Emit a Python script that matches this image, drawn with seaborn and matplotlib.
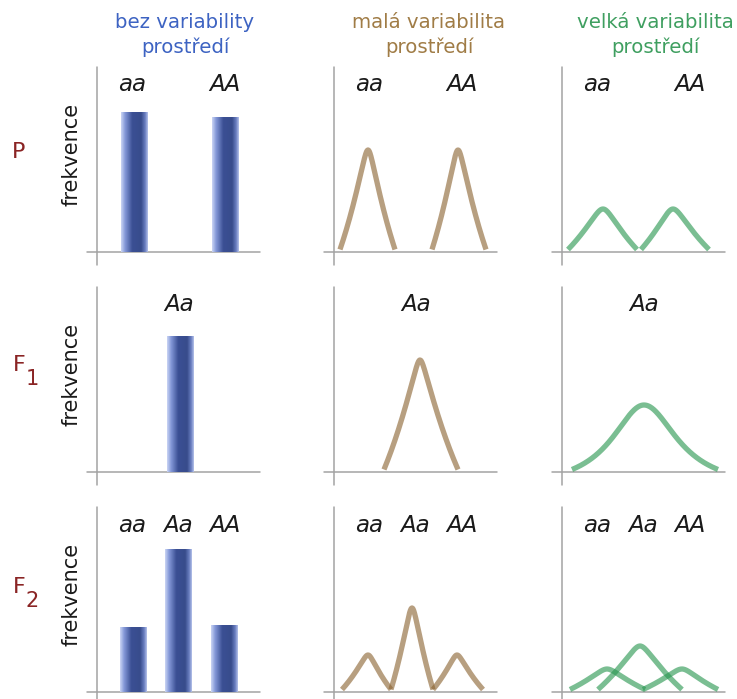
import numpy as np
import pandas as pd
import matplotlib
matplotlib.use("Agg")
import matplotlib.pyplot as plt
import seaborn as sns
from matplotlib.colors import LinearSegmentedColormap

sns.set_theme(style="white")
plt.rcParams['font.family'] = ['DejaVu Sans', 'Noto Sans']

W, H = 737, 699

# ---------------- data ----------------
col_titles = ["bez variability\nprostředí", "malá variabilita\nprostředí",
              "velká variabilita\nprostředí"]
col_title_colors = ["#3d63c2", "#a07c46", "#3f9f60"]
row_labels = ["P", "F", "F"]
row_subs = ["", "1", "2"]
y_label = "frekvence"

genotypes = [["aa", "AA"], ["Aa"], ["aa", "Aa", "AA"]]
label_pos = [[35, 128], [82], [35, 81, 128]]

# column 1: no environmental variability (bars)
bar_pos = [[37, 128], [83], [36, 81, 127]]
bar_freq = [[140, 135], [136], [65, 143, 67]]

# column 2: small variability (curves): start, peak, end, peak frequency
small_start = [[6, 98], [50], [8, 57, 99]]
small_peak = [[34, 124], [86], [34, 78, 123]]
small_end = [[61, 152], [124], [57, 99, 149]]
small_freq = [[102, 102], [112], [37, 84, 37]]

# column 3: large variability (curves)
large_start = [[6, 79], [10], [8, 36, 81]]
large_peak = [[41, 111], [82], [45, 78, 120]]
large_end = [[75, 147], [156], [83, 120, 156]]
large_freq = [[43, 43], [67], [23, 46, 23]]

# ---------------- layout / style ----------------
axis_x = [97, 334, 562]      # pixel x of vertical axis per column
base_y = [252, 472, 692]     # pixel y of baseline per row
BAR_W = 27

brown = (140 / 255, 100 / 255, 50 / 255)
green = (40 / 255, 150 / 255, 80 / 255)
axis_col = "#a3a3a3"
green_shape = [("cusp", 1.6, 6.0), ("lor", 0.55, 0), ("cusp", 1.6, 6.0)]
brown_shape = ("cusp", 1.6, 3.0)

bar_cmap = LinearSegmentedColormap.from_list("bar", [
    (0.0, (0.80, 0.84, 0.96)),
    (0.15, (0.52, 0.60, 0.85)),
    (0.42, (0.23, 0.31, 0.58)),
    (0.75, (0.22, 0.30, 0.55)),
    (0.90, (0.42, 0.50, 0.76)),
    (1.0, (0.72, 0.77, 0.92)),
])


def profile(d, D, kind, k, rr):
    if kind == "cusp":
        de = np.sqrt(d ** 2 + rr ** 2) - rr
        De = np.sqrt(D ** 2 + rr ** 2) - rr
        s = k * D
        return (np.exp(-de / s) - np.exp(-De / s)) / (1 - np.exp(-De / s))
    w = k * D
    L = 1 / (1 + (d / w) ** 2)
    LD = 1 / (1 + (1 / k) ** 2)
    return (L - LD) / (1 - LD)


def peak_curve(s, p, e, h, shape, base=2.5, n=150):
    kind, k, rr = shape
    xs, ys = [], []
    for a, b in ((s, p), (p, e)):
        D = abs(b - a)
        xx = np.linspace(a, b, n)
        d = np.abs(xx - p)
        yy = base + (h - base) * profile(d, D, kind, k, rr)
        xs.append(xx)
        ys.append(yy)
    return np.concatenate(xs), np.concatenate(ys)


fig = plt.figure(figsize=(W / 100, H / 100), dpi=100)

for r in range(3):
    for c in range(3):
        x0, b = axis_x[c], base_y[r]
        left = (x0 - 15) / W
        bottom = (H - (b + 15)) / H
        ax = fig.add_axes([left, bottom, 185 / W, 210 / H])
        ax.set_axis_off()

        if c == 0:
            pos = bar_pos[r]
            spacing = np.min(np.diff(pos)) if len(pos) > 1 else 1
            df = pd.DataFrame({"x": pos, "y": bar_freq[r]})
            sns.barplot(data=df, x="x", y="y", native_scale=True,
                        width=BAR_W / spacing, color="#3a4e8e",
                        errorbar=None, linewidth=0, ax=ax)
            grad = np.tile(np.linspace(0, 1, 256), (2, 1))
            for p in list(ax.patches):
                x, w, h = p.get_x(), p.get_width(), p.get_height()
                im = ax.imshow(grad, extent=(x, x + w, 0, h), cmap=bar_cmap,
                               aspect="auto", origin="lower",
                               interpolation="bilinear", zorder=3)
                im.set_clip_path(p)
                p.set_facecolor("none")
        else:
            if c == 1:
                S, P, E, F, col, shape = (small_start, small_peak, small_end,
                                          small_freq, brown, brown_shape)
            else:
                S, P, E, F, col, shape = (large_start, large_peak, large_end,
                                          large_freq, green, green_shape[r])
            for i in range(len(P[r])):
                xx, yy = peak_curve(S[r][i], P[r][i], E[r][i], F[r][i], shape)
                sns.lineplot(x=xx, y=yy, sort=False, estimator=None,
                             color=col, alpha=0.62, lw=3.8,
                             solid_capstyle="butt", ax=ax)

        # cross-shaped axes
        ax.plot([-10, 163], [0, 0], color=axis_col, lw=1.1, zorder=1)
        ax.plot([0, 0], [-13, 185], color=axis_col, lw=1.1, zorder=1)

        for g, xp in zip(genotypes[r], label_pos[r]):
            ax.text(xp, 167, g, ha="center", va="center", fontsize=16.5,
                    fontstyle="italic", color="#1a1a1a")

        ax.set_xlim(-15, 170)
        ax.set_ylim(-15, 195)

# column titles
title_x = [185, 429, 655]
for c in range(3):
    fig.text(title_x[c] / W, 1 - 35 / H, col_titles[c], ha="center", va="center",
             fontsize=14.2, color=col_title_colors[c], linespacing=1.3)

# row labels and y labels
row_col = "#8a2424"
row_y = [152, 365, 587]
for r in range(3):
    fig.text(19 / W, 1 - row_y[r] / H, row_labels[r], ha="center", va="center",
             fontsize=16, color=row_col)
    if row_subs[r]:
        fig.text(32 / W, 1 - (row_y[r] + 14) / H, row_subs[r], ha="center",
                 va="center", fontsize=15, color=row_col)
    fig.text(71 / W, 1 - (base_y[r] - 98) / H, y_label, rotation=90,
             ha="center", va="center", fontsize=15, color="#1a1a1a")

fig.savefig("out.png", dpi=100)
